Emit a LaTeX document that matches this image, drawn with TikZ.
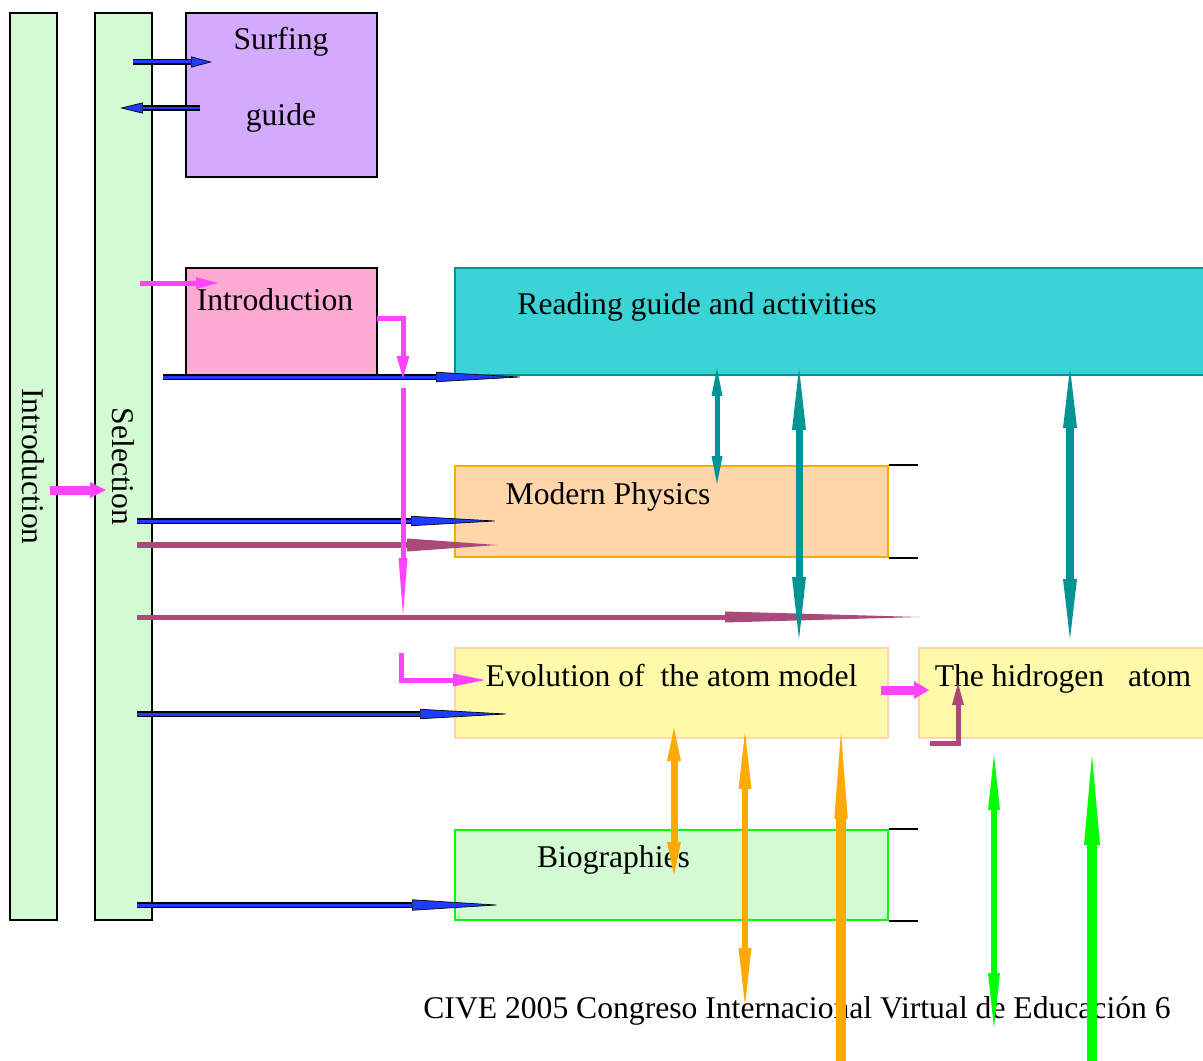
\documentclass[tikz,border=0pt]{standalone}
\usepackage{fontspec}
\setmainfont{Liberation Serif}
\usepackage{tikz}
\usetikzlibrary{arrows.meta}
\definecolor{selgreen}{HTML}{D4FAD4}
\definecolor{surfviolet}{HTML}{D4AAFF}
\definecolor{intropink}{HTML}{FFAAD4}
\definecolor{readcyan}{HTML}{3AD4D6}
\definecolor{readteal}{HTML}{009494}
\definecolor{modpeach}{HTML}{FFD5AA}
\definecolor{modorange}{HTML}{FFAA00}
\definecolor{evoyellow}{HTML}{FFFAAA}
\definecolor{biogreen}{HTML}{00FF00}
\definecolor{linkblue}{HTML}{1E3CFF}
\definecolor{linkpink}{HTML}{FF44FF}
\definecolor{linkplum}{HTML}{AA4A78}
\tikzstyle{column}=[draw=black, line width=0.04cm, fill=selgreen, inner sep=0pt, rotate=-90, minimum width=18.14cm, font=\fontsize{18}{21.6}\selectfont]
\tikzstyle{topic}=[line width=0.04cm, inner sep=0pt, minimum width=8.66cm, minimum height=1.8cm]
\tikzstyle{txt}=[inner sep=0pt, font=\fontsize{18}{21.6}\selectfont, align=center]
\tikzstyle{tick}=[draw=black, line width=0.04cm]
\tikzset{
  bluelink/.style 2 args={draw=black, line width=0.12cm, -{Triangle[length=#1, width=#2, fill=linkblue, line width=0.4pt]}, postaction={draw=linkblue, line width=0.06cm, -, shorten >=#1}},
  link/.style n args={4}{draw=#1, line width=#2, line join=miter, -{Triangle[length=#3, width=#4, line width=0pt]}},
  twolink/.style n args={4}{draw=#1, line width=#2, {Triangle[length=#3, width=#4, line width=0pt]}-{Triangle[length=#3, width=#4, line width=0pt]}},
}

\begin{document}
\begin{tikzpicture}[x=0.02cm, y=-0.02cm]
          \useasboundingbox (0,0) rectangle (1203,1061);
          \node[column, minimum height=0.94cm] (intcol) at (33.5,466.5) {Introduction};
          \node[column, minimum height=1.14cm] (selcol) at (123.5,466.5) {Selection};
          \node[topic, draw=black, fill=surfviolet, minimum width=3.82cm, minimum height=3.28cm] (surf) at (281.5,95) {};
          \node[topic, draw=black, fill=intropink, minimum width=3.82cm, minimum height=2.14cm] (intro) at (281.5,321.5) {};
          \node[topic, draw=readteal, fill=readcyan, minimum width=15.3cm, minimum height=2.14cm] (read) at (837.5,321.5) {};
          \node[topic, draw=modorange, fill=modpeach, minimum height=1.82cm] (mod) at (671.5,511.5) {};
          \node[topic, draw=modpeach, fill=evoyellow] (evo) at (671.5,693) {};
          \node[topic, draw=modpeach, fill=evoyellow, minimum width=6.1cm] (hyd) at (1071.5,693) {};
          \node[topic, draw=biogreen, fill=selgreen] (bio) at (671.5,875) {};
          \draw[tick] (mod.north east) -- ++(29,0);
          \draw[tick] (mod.south east) -- ++(29,0);
          \draw[tick] (bio.north east) -- ++(29,0);
          \draw[tick] (bio.south east) -- ++(29,0);
          \node[txt] (surftxt) at (281,80) {Surfing\\[0.76cm]guide};
          \node[txt] (introtxt) at (275,300) {Introduction};
          \node[txt] (readtxt) at (697,307) {Reading guide and activities};
          \node[txt] (modtxt) at (608,497) {Modern Physics};
          \node[txt] (evotxt) at (671.5,676) {Evolution of\ \ the atom model};
          \node[txt] (hydtxt) at (1063,679) {The hidrogen\ \ \ atom};
          \node[txt] (biotxt) at (613.5,860) {Biographies};
          \node[txt] (cive) at (797,1011) {CIVE 2005 Congreso Internacional Virtual de Educación 6};
          \coordinate (sg0) at (133,62);
          \coordinate (sg1) at (212,62);
          \coordinate (sg2) at (200,108);
          \coordinate (sg3) at (120,108);
          \coordinate (ic0) at (50,490);
          \coordinate (ic1) at (106,490);
          \coordinate (in0) at (140,283);
          \coordinate (in1) at (218,283);
          \coordinate (rd0) at (163,377);
          \coordinate (rd1) at (526,377);
          \coordinate (ie0) at (377,318);
          \coordinate (ie1) at (403,318);
          \coordinate (ie2) at (403,378);
          \coordinate (dn0) at (403,388);
          \coordinate (dn1) at (403,615);
          \coordinate (mp0) at (137,521);
          \coordinate (mp1) at (501,521);
          \coordinate (mq0) at (137,545);
          \coordinate (mq1) at (497,545);
          \coordinate (lg0) at (137,617);
          \coordinate (lg1) at (920,617);
          \coordinate (ev0) at (401,653);
          \coordinate (ev1) at (401,680);
          \coordinate (ev2) at (485,680);
          \coordinate (eb0) at (137,714);
          \coordinate (eb1) at (512,714);
          \coordinate (hy0) at (881,690);
          \coordinate (hy1) at (929,690);
          \coordinate (hq0) at (930,743);
          \coordinate (hq1) at (958,743);
          \coordinate (hq2) at (958,683);
          \coordinate (bg0) at (137,905);
          \coordinate (bg1) at (502,905);
          \coordinate (t0) at (717,368);
          \coordinate (t1) at (717,484);
          \coordinate (t2) at (799,368);
          \coordinate (t3) at (799,639);
          \coordinate (t4) at (1070,368);
          \coordinate (t5) at (1070,639);
          \coordinate (o0) at (674,728);
          \coordinate (o1) at (674,875);
          \coordinate (o2) at (745,732);
          \coordinate (o3) at (745,1005);
          \coordinate (o4) at (841,1075);
          \coordinate (o5) at (841,732);
          \coordinate (g0) at (994,755);
          \coordinate (g1) at (994,1028);
          \coordinate (g2) at (1092,1075);
          \coordinate (g3) at (1092,755);
          \draw[bluelink={0.42cm}{0.22cm}] (sg0) -- (sg1);
          \draw[bluelink={0.46cm}{0.22cm}] (sg2) -- (sg3);
          \draw[link={linkpink}{0.18cm}{0.32cm}{0.32cm}] (ic0) -- (ic1);
          \draw[link={linkpink}{0.1cm}{0.44cm}{0.24cm}] (in0) -- (in1);
          \draw[bluelink={1.8cm}{0.2cm}] (rd0) -- (rd1);
          \draw[link={linkpink}{0.1cm}{0.44cm}{0.26cm}] (ie0) -- (ie1) -- (ie2);
          \draw[bluelink={1.8cm}{0.2cm}] (mp0) -- (mp1);
          \draw[link={linkplum}{0.12cm}{1.8cm}{0.26cm}] (mq0) -- (mq1);
          \draw[link={linkplum}{0.1cm}{3.9cm}{0.22cm}] (lg0) -- (lg1);
          \draw[link={linkpink}{0.1cm}{1.14cm}{0.18cm}] (dn0) -- (dn1);
          \draw[twolink={readteal}{0.1cm}{0.56cm}{0.22cm}] (t0) -- (t1);
          \draw[twolink={readteal}{0.14cm}{1.24cm}{0.28cm}] (t2) -- (t3);
          \draw[twolink={readteal}{0.16cm}{1.2cm}{0.28cm}] (t4) -- (t5);
          \draw[link={linkpink}{0.1cm}{0.64cm}{0.26cm}] (ev0) -- (ev1) -- (ev2);
          \draw[bluelink={1.84cm}{0.2cm}] (eb0) -- (eb1);
          \draw[link={linkpink}{0.18cm}{0.3cm}{0.36cm}] (hy0) -- (hy1);
          \draw[link={linkplum}{0.1cm}{0.44cm}{0.24cm}] (hq0) -- (hq1) -- (hq2);
          \draw[bluelink={1.8cm}{0.22cm}] (bg0) -- (bg1);
          \draw[twolink={modorange}{0.14cm}{0.66cm}{0.28cm}] (o0) -- (o1);
          \draw[twolink={modorange}{0.13cm}{1.14cm}{0.26cm}] (o2) -- (o3);
          \draw[link={modorange}{0.2cm}{1.74cm}{0.27cm}] (o4) -- (o5);
          \draw[twolink={biogreen}{0.12cm}{1.1cm}{0.24cm}] (g0) -- (g1);
          \draw[link={biogreen}{0.2cm}{1.8cm}{0.32cm}] (g2) -- (g3);
        \end{tikzpicture}
\end{document}
